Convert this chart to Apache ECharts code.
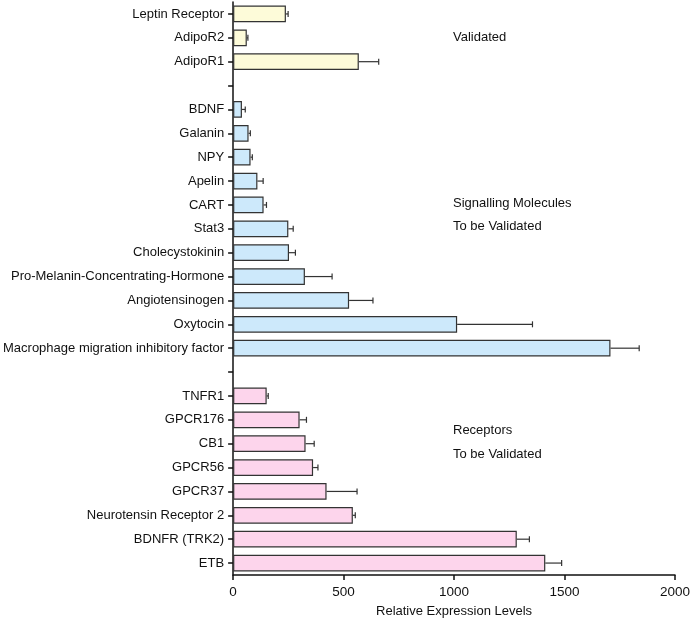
<!DOCTYPE html>
<html>
<head>
<meta charset="utf-8">
<script src="https://cdn.jsdelivr.net/npm/echarts@6/dist/echarts.min.js"></script>
<style>
  html, body { margin: 0; padding: 0; background: #fff; }
  #chart { width: 693px; height: 623px; }
</style>
</head>
<body>
<div id="chart"></div>
<script>
// groups of genes, top to bottom
var validatedNames = ['Leptin Receptor', 'AdipoR2', 'AdipoR1'];
var validatedValues = [239, 62, 569];
var validatedErrors = [10, 5, 90];

var signallingNames = ['BDNF', 'Galanin', 'NPY', 'Apelin', 'CART', 'Stat3', 'Cholecystokinin',
    'Pro-Melanin-Concentrating-Hormone', 'Angiotensinogen', 'Oxytocin', 'Macrophage migration inhibitory factor'];
var signallingValues = [40, 70, 79, 110, 138, 250, 253, 325, 525, 1014, 1708];
var signallingErrors = [15, 8, 8, 26, 13, 22, 29, 123, 108, 341, 130];

var receptorNames = ['TNFR1', 'GPCR176', 'CB1', 'GPCR56', 'GPCR37', 'Neurotensin Receptor 2', 'BDNFR (TRK2)', 'ETB'];
var receptorValues = [152, 301, 328, 362, 423, 542, 1284, 1413];
var receptorErrors = [7, 31, 39, 22, 138, 11, 57, 74];

var xTicks = [0, 500, 1000, 1500, 2000];

// category list with empty rows between the groups
var categories = validatedNames.concat([' '], signallingNames, ['  '], receptorNames);

function padded(values, offset) {
    var arr = categories.map(function () { return '-'; });
    values.forEach(function (v, i) { arr[offset + i] = v; });
    return arr;
}
var offV = 0, offS = validatedNames.length + 1, offR = offS + signallingNames.length + 1;

var errData = [];
function addErr(values, errs, offset) {
    values.forEach(function (v, i) { errData.push([v, offset + i, errs[i]]); });
}
addErr(validatedValues, validatedErrors, offV);
addErr(signallingValues, signallingErrors, offS);
addErr(receptorValues, receptorErrors, offR);

var font = '"Liberation Sans", Arial, Helvetica, sans-serif';

function barSeries(values, offset, color) {
    return {
        type: 'bar',
        data: padded(values, offset),
        barGap: '-100%',
        barCategoryGap: '30%',
        itemStyle: { color: color, borderColor: '#333', borderWidth: 1.2 },
        silent: true,
        z: 2
    };
}

var myChart = echarts.init(document.getElementById('chart'));

var option = {
    backgroundColor: '#fff',
    animation: false,
    grid: { left: 232, right: 16, top: 2, bottom: 44, containLabel: false },
    xAxis: {
        type: 'value',
        min: xTicks[0],
        max: xTicks[xTicks.length - 1],
        interval: 500,
        name: 'Relative Expression Levels',
        nameLocation: 'middle',
        nameGap: 30,
        nameTextStyle: { color: '#111', fontSize: 13, fontFamily: font },
        axisLine: { show: true, lineStyle: { color: '#111', width: 1.5 } },
        axisTick: { show: true, length: 5, lineStyle: { color: '#111', width: 1.5 } },
        axisLabel: { color: '#111', fontSize: 13.5, fontFamily: font, margin: 10,
            formatter: function (v) { return String(v); } },
        splitLine: { show: false }
    },
    yAxis: {
        type: 'category',
        data: categories,
        inverse: true,
        axisLine: { show: true, lineStyle: { color: '#111', width: 1.5 } },
        axisTick: { show: true, alignWithLabel: true, length: 5, lineStyle: { color: '#111', width: 1.5 } },
        axisLabel: { color: '#111', fontSize: 13, fontFamily: font, margin: 9, interval: 0 },
        splitLine: { show: false }
    },
    series: [
        barSeries(validatedValues, offV, '#fdfbd9'),
        barSeries(signallingValues, offS, '#cde9fb'),
        barSeries(receptorValues, offR, '#fdd5ec'),
        {
            type: 'custom',
            data: errData,
            encode: { x: 0, y: 1 },
            silent: true,
            z: 3,
            renderItem: function (params, api) {
                var v = api.value(0), idx = api.value(1), e = api.value(2);
                var p0 = api.coord([v, idx]);
                var p1 = api.coord([v + e, idx]);
                var h = 3;
                var style = { stroke: '#333', lineWidth: 1.2 };
                return {
                    type: 'group',
                    children: [
                        { type: 'line', shape: { x1: p0[0], y1: p0[1], x2: p1[0], y2: p1[1] }, style: style },
                        { type: 'line', shape: { x1: p1[0], y1: p1[1] - h, x2: p1[0], y2: p1[1] + h }, style: style }
                    ]
                };
            }
        }
    ],
    graphic: [
        { type: 'text', left: 453, top: 31, style: { text: 'Validated', font: '13px ' + font, fill: '#111' } },
        { type: 'text', left: 453, top: 192, style: { text: 'Signalling Molecules\nTo be Validated', font: '13px ' + font, fill: '#111', lineHeight: 23 } },
        { type: 'text', left: 453, top: 418, style: { text: 'Receptors\nTo be Validated', font: '13px ' + font, fill: '#111', lineHeight: 24 } }
    ]
};

myChart.setOption(option);
</script>
</body>
</html>
